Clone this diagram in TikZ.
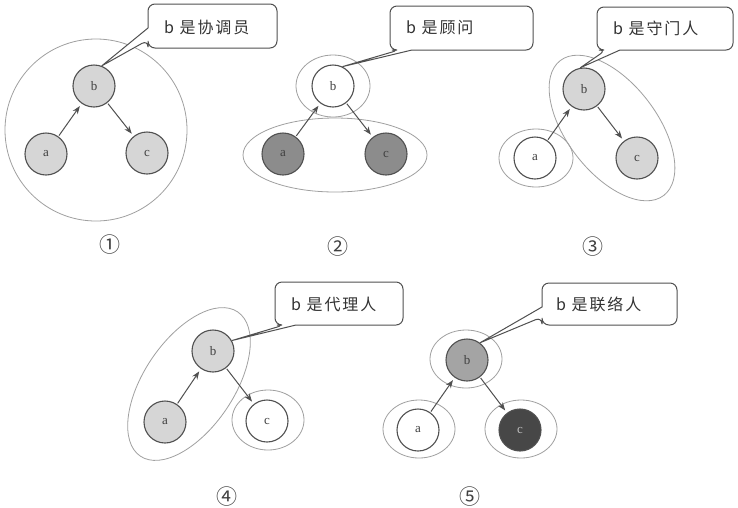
\documentclass[tikz,border=0pt]{standalone}
\usepackage{fontspec}
\setmainfont{Liberation Serif}
\newfontfamily\cjk[LetterSpace=12]{Noto Sans CJK SC}
\newfontfamily\cjknum{Noto Sans CJK SC}
\usetikzlibrary{arrows.meta}
\definecolor{edgegray}{HTML}{505050}
\definecolor{ringgray}{HTML}{A0A0A0}
\definecolor{lightfill}{HTML}{D6D6D6}
\definecolor{midfill}{HTML}{A4A4A4}
\definecolor{darkfill}{HTML}{8C8C8C}
\definecolor{deepfill}{HTML}{474747}
\tikzset{
  actor/.style={circle, draw=edgegray, line width=1.1pt, minimum size=42pt, inner sep=0pt,
    font=\fontsize{13}{13}\selectfont, text=black!75},
  plain/.style={actor, fill=white},
  light/.style={actor, fill=lightfill},
  mid/.style={actor, fill=midfill},
  dark/.style={actor, fill=darkfill},
  deep/.style={actor, fill=deepfill, text=black!25},
  ring/.style={draw=ringgray, line width=0.8pt},
  flow/.style={draw=edgegray, line width=1pt, -{Stealth[length=8pt,width=6pt]}, shorten >=3pt, shorten <=1pt},
  callout/.style={draw=edgegray, fill=white, line width=1pt},
  saytext/.style={anchor=west, inner sep=0pt, font=\cjk\fontsize{16}{16}\selectfont, text=black!80},
  numlabel/.style={inner sep=0pt, font=\cjknum\fontsize{21}{21}\selectfont, text=black!75}
}
\begin{document}
\begin{tikzpicture}[x=1pt,y=-1pt]
\useasboundingbox[fill=white] (0,0) rectangle (738,507);

% ---------- panel 1 ----------
\draw[ring] (96,130) circle [radius=91];
\node[light] (b1) at (94,86) {b};
\node[light] (a1) at (46,154) {a};
\node[light] (c1) at (147,153) {c};
\draw[flow] (a1) -- (b1);
\draw[flow] (b1) -- (c1);
\draw[callout] (b1.69) -- (148,28) [rounded corners=7pt] -- (148,4) -- (277,4) -- (277,48) -- (148,48) -- (148,40) [sharp corners] -- cycle;
\node[saytext] (t1) at (164,27) {b 是协调员};
\node[numlabel] (n1) at (110,245) {①};

% ---------- panel 2 ----------
\draw[ring] (335,155) ellipse [x radius=92, y radius=37];
\draw[ring] (333,86) ellipse [x radius=37, y radius=31];
\node[plain] (b2) at (333,86) {b};
\node[dark] (a2) at (283,154) {a};
\node[dark] (c2) at (386,154) {c};
\draw[flow] (a2) -- (b2);
\draw[flow] (b2) -- (c2);
\draw[callout] (b2.64) -- (412,50) [rounded corners=7pt] -- (533,50) -- (533,6) -- (390,6) -- (390,50) -- (399,50) [sharp corners] -- cycle;
\node[saytext] (t2) at (406,28) {b 是顾问};
\node[numlabel] (n2) at (338,247) {②};

% ---------- panel 3 ----------
\draw[ring, rotate around={-52.5:(612,128)}] (612,128) ellipse [x radius=85, y radius=45];
\draw[ring] (536,158) ellipse [x radius=37, y radius=29];
\node[light] (b3) at (584,89) {b};
\node[plain] (a3) at (535,158) {a};
\node[light] (c3) at (637,158) {c};
\draw[flow] (a3) -- (b3);
\draw[flow] (b3) -- (c3);
\draw[callout] (b3.100) -- (620,50) [rounded corners=7pt] -- (733,50) -- (733,7) -- (597,7) -- (597,50) -- (606,50) [sharp corners] -- cycle;
\node[saytext] (t3) at (613,28) {b 是守门人};
\node[numlabel] (n3) at (593,247) {③};

% ---------- panel 4 ----------
\draw[ring, rotate around={56:(189,384)}] (189,384) ellipse [x radius=87, y radius=45];
\draw[ring] (268,420) ellipse [x radius=36, y radius=30];
\node[light] (b4) at (213,351) {b};
\node[light] (a4) at (165,422) {a};
\node[plain] (c4) at (267,421) {c};
\draw[flow] (a4) -- (b4);
\draw[flow] (b4) -- (c4);
\draw[callout] (b4.29) -- (296,325) [rounded corners=7pt] -- (403,325) -- (403,282) -- (275,282) -- (275,325) -- (284,325) [sharp corners] -- cycle;
\node[saytext] (t4) at (291,304) {b 是代理人};
\node[numlabel] (n4) at (227,497) {④};

% ---------- panel 5 ----------
\draw[ring] (466,359) ellipse [x radius=36, y radius=29];
\draw[ring] (419,429) ellipse [x radius=36, y radius=29];
\draw[ring] (521,429) ellipse [x radius=36, y radius=29];
\node[mid] (b5) at (467,360) {b};
\node[plain] (a5) at (418,430) {a};
\node[deep] (c5) at (520,430) {c};
\draw[flow] (a5) -- (b5);
\draw[flow] (b5) -- (c5);
\draw[callout] (b5.53) -- (542,307) [rounded corners=7pt] -- (542,283) -- (677,283) -- (677,325) -- (542,325) -- (542,317) [sharp corners] -- cycle;
\node[saytext] (t5) at (556,304) {b 是联络人};
\node[numlabel] (n5) at (470,497) {⑤};
\end{tikzpicture}
\end{document}
